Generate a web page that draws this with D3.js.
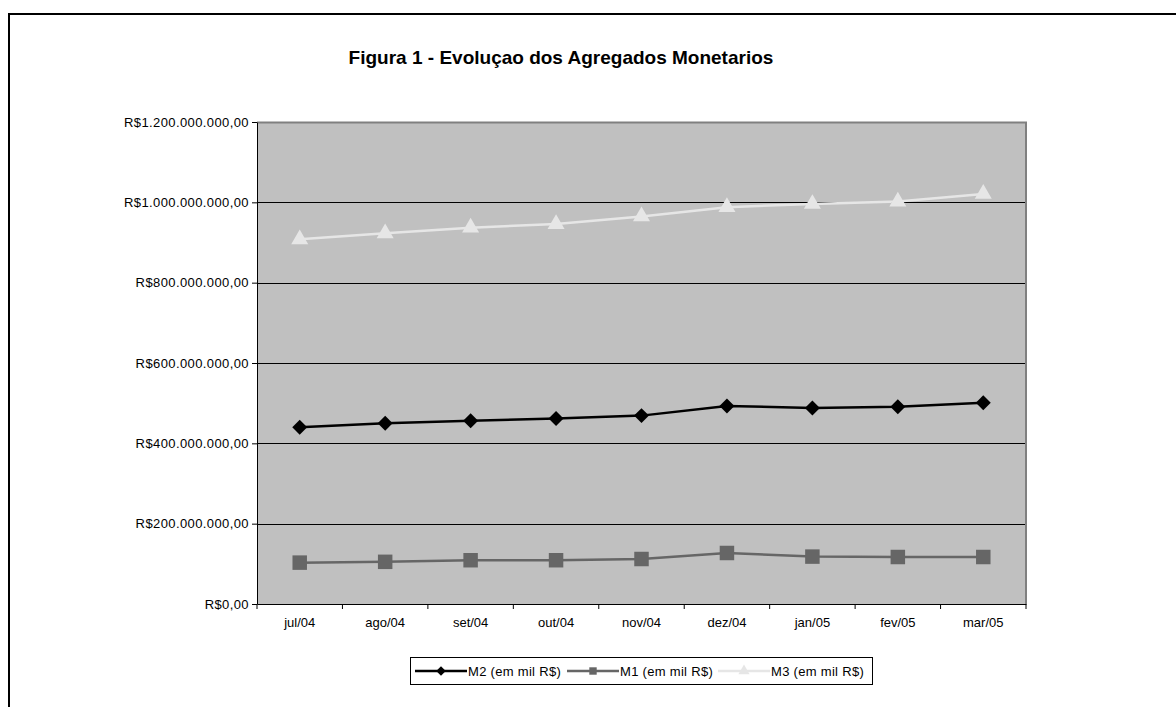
<!DOCTYPE html>
<html>
<head>
<meta charset="utf-8">
<script src="https://cdn.jsdelivr.net/npm/d3@7"></script>
<style>
body { margin: 0; background: #fff; }
text { font-family: Arial, "Liberation Sans", sans-serif; }
</style>
</head>
<body>
<script>
// data
const meses = ["jul/04","ago/04","set/04","out/04","nov/04","dez/04","jan/05","fev/05","mar/05"]
const m2 = [440e6, 450e6, 456e6, 462e6, 469e6, 493e6, 488e6, 491e6, 501e6]
const m1 = [103e6, 105e6, 109e6, 109e6, 112e6, 127e6, 118e6, 117e6, 117e6]
const m3 = [908e6, 923e6, 937e6, 946e6, 965e6, 988e6, 996e6, 1002e6, 1021e6]
const yTicks = [0, 200e6, 400e6, 600e6, 800e6, 1000e6, 1200e6]

const W = 1176, H = 707
const plot = {left: 257, top: 122, right: 1026, bottom: 604}

const svg = d3.select("body").append("svg")
    .attr("width", W)
    .attr("height", H)

// outer frame
svg.append("path")
    .attr("d", `M9,${H+5} L9,14 L${W+5},14`)
    .attr("fill", "none")
    .attr("stroke", "#000")
    .attr("stroke-width", 2)

svg.append("text")
    .attr("x", 561).attr("y", 64)
    .attr("text-anchor", "middle")
    .attr("font-weight", "bold")
    .attr("font-size", 19)
    .text("Figura 1 - Evoluçao dos Agregados Monetarios")

const x = d3.scaleBand().domain(meses).range([plot.left, plot.right])
const y = d3.scaleLinear().domain([0, 1200e6]).range([plot.bottom, plot.top])

// plot background
svg.append("rect")
    .attr("x", plot.left).attr("y", plot.top)
    .attr("width", plot.right - plot.left)
    .attr("height", plot.bottom - plot.top)
    .attr("fill", "#c0c0c0")

// grid
svg.append("g").selectAll("line")
    .data(yTicks.slice(1, -1))
    .enter().append("line")
    .attr("x1", plot.left).attr("x2", plot.right)
    .attr("y1", d => Math.round(y(d)) + 0.5).attr("y2", d => Math.round(y(d)) + 0.5)
    .attr("stroke", "#000")

// top / right border
svg.append("path")
    .attr("d", `M${plot.left},${plot.top+0.5} L${plot.right},${plot.top+0.5} L${plot.right},${plot.bottom}`)
    .attr("fill", "none")
    .attr("stroke", "#808080")
    .attr("stroke-width", 2)

const fmt = v => "R$" + d3.format(",.2f")(v).replace(/,/g, "#").replace(".", ",").replace(/#/g, ".")

const yAxis = svg.append("g")
    .attr("transform", `translate(${plot.left},0)`)
    .call(d3.axisLeft(y).tickValues(yTicks).tickSize(5).tickSizeOuter(0).tickFormat(fmt))
yAxis.select(".domain").attr("stroke", "#000")
yAxis.selectAll("text")
    .attr("font-size", 13)
    .attr("letter-spacing", "0.4px")
    .attr("fill", "#000")
    .attr("font-family", "Arial, 'Liberation Sans', sans-serif")

const xAxis = svg.append("g")
    .attr("transform", `translate(0,${plot.bottom})`)
    .call(d3.axisBottom(x).tickSize(0).tickSizeOuter(0))
xAxis.select(".domain").attr("stroke", "#000")
xAxis.selectAll("text")
    .attr("font-size", 13)
    .attr("fill", "#000")
    .attr("y", 23).attr("dy", 0)
    .attr("font-family", "Arial, 'Liberation Sans', sans-serif")
// category boundary ticks
svg.append("g").selectAll("line")
    .data(meses.concat(["end"]))
    .enter().append("line")
    .attr("x1", (d, i) => plot.left + i * x.step()).attr("x2", (d, i) => plot.left + i * x.step())
    .attr("y1", plot.bottom).attr("y2", plot.bottom + 5)
    .attr("stroke", "#000")

const cx = d => x(d) + x.bandwidth() / 2

const series = [
    {name: "M2 (em mil R$)", values: m2, color: "#000", shape: d3.symbolSquare, rot: 45, size: 112},
    {name: "M1 (em mil R$)", values: m1, color: "#666", shape: d3.symbolSquare, rot: 0, size: 210},
    {name: "M3 (em mil R$)", values: m3, color: "#e6e6e6", shape: d3.symbolTriangle, rot: 0, size: 125}
]

const line = d3.line().x((d, i) => cx(meses[i])).y(d => y(d))

series.forEach(s => {
    svg.append("path")
        .datum(s.values)
        .attr("d", line)
        .attr("fill", "none")
        .attr("stroke", s.color)
        .attr("stroke-width", 2.5)
    svg.append("g").selectAll("path")
        .data(s.values)
        .enter().append("path")
        .attr("transform", (d, i) => `translate(${cx(meses[i])},${y(d)}) rotate(${s.rot})`)
        .attr("d", d3.symbol().type(s.shape).size(s.size))
        .attr("fill", s.color)
})

// legend
const lg = svg.append("g")
lg.append("rect")
    .attr("x", 410.5).attr("y", 657.5)
    .attr("width", 462).attr("height", 27)
    .attr("fill", "#fff")
    .attr("stroke", "#000")
const legX = [415, 567, 718]
series.forEach((s, i) => {
    const g = lg.append("g").attr("transform", `translate(${legX[i]},671)`)
    g.append("line").attr("x1", 0).attr("x2", 52).attr("stroke", s.color).attr("stroke-width", 2.5)
    g.append("path").attr("transform", `translate(26,0) rotate(${s.rot})`)
        .attr("d", d3.symbol().type(s.shape).size(s.rot ? 45 : 55)).attr("fill", s.color)
    g.append("text").attr("x", 53).attr("y", 5)
        .attr("font-size", 13).attr("letter-spacing", "0.3px").text(s.name)
})
</script>
</body>
</html>
